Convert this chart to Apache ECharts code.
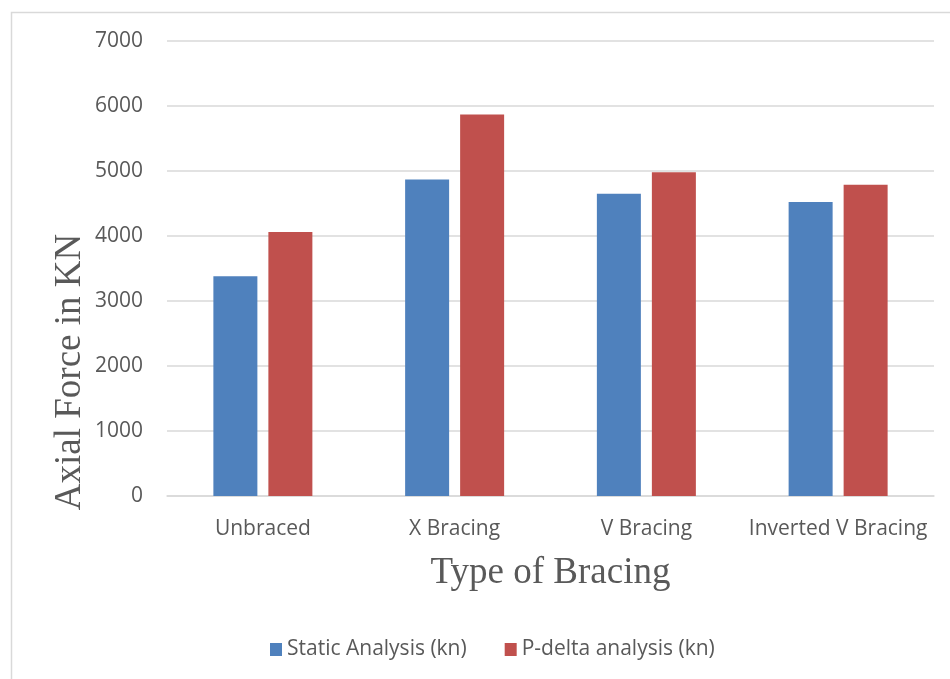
<!DOCTYPE html>
<html>
<head>
<meta charset="utf-8">
<style>
  html, body { margin: 0; padding: 0; background: #ffffff; }
  #chart { width: 950px; height: 679px; }
</style>
<script src="https://cdn.jsdelivr.net/npm/echarts@6/dist/echarts.min.js"></script>
</head>
<body>
<div id="chart"></div>
<script>
// Bracing types along the category axis
const categories = ['Unbraced', 'X Bracing', 'V Bracing', 'Inverted V Bracing'];
// Axial force (kN) for each analysis method
const staticAnalysis = [3380, 4870, 4650, 4525];
const pDeltaAnalysis = [4060, 5870, 4980, 4790];
const seriesNames = ['Static Analysis (kn)', 'P-delta analysis (kn)'];
// Value axis range and step
const yMin = 0, yMax = 7000, yStep = 1000;
const yTitle = 'Axial Force in KN';
const xTitle = 'Type of Bracing';

const labelFont = '"Open Sans", "Liberation Sans", sans-serif';
const titleFont = '"Liberation Serif", "Times New Roman", serif';
const textGray = '#595959';
const lineGray = '#D9D9D9';

const chart = echarts.init(document.getElementById('chart'), null, { renderer: 'canvas' });

chart.setOption({
  backgroundColor: '#ffffff',
  animation: false,
  color: ['#4F81BD', '#C0504D'],
  graphic: [
    {
      type: 'rect',
      shape: { x: 11.5, y: 12.5, width: 960, height: 700 },
      style: { fill: 'none', stroke: lineGray, lineWidth: 1.5 },
      silent: true,
      z: -1
    },
    {
      // vertical value-axis title, sitting a little below the plot's mid-height
      type: 'text',
      x: 70,
      y: 372,
      rotation: Math.PI / 2,
      style: {
        text: yTitle,
        fontFamily: titleFont,
        fontSize: 37,
        fill: textGray,
        align: 'center',
        verticalAlign: 'middle'
      },
      silent: true
    }
  ],
  grid: { left: 167, right: 16, top: 41, bottom: 183, containLabel: false },
  legend: {
    data: seriesNames,
    left: 265,
    top: 634,
    itemWidth: 12,
    itemHeight: 13,
    itemGap: 38,
    icon: 'rect',
    textStyle: { fontFamily: labelFont, fontSize: 21, color: textGray }
  },
  xAxis: {
    type: 'category',
    data: categories,
    name: xTitle,
    nameLocation: 'middle',
    nameGap: 59,
    nameTextStyle: { fontFamily: titleFont, fontSize: 37, color: textGray },
    axisLine: { lineStyle: { color: lineGray, width: 1.5 } },
    axisTick: { show: false },
    axisLabel: { interval: 0, fontFamily: labelFont, fontSize: 21, color: textGray, margin: 23 }
  },
  yAxis: {
    type: 'value',
    min: yMin,
    max: yMax,
    interval: yStep,
    axisLine: { show: false },
    axisTick: { show: false },
    splitLine: { lineStyle: { color: lineGray, width: 1.5 } },
    axisLabel: {
      fontFamily: labelFont, fontSize: 21, color: textGray, margin: 24,
      formatter: (v) => String(v)
    }
  },
  series: [
    {
      name: seriesNames[0],
      type: 'bar',
      data: staticAnalysis,
      barWidth: 44,
      barGap: '25%',
      itemStyle: { color: '#4F81BD' }
    },
    {
      name: seriesNames[1],
      type: 'bar',
      data: pDeltaAnalysis,
      barWidth: 44,
      itemStyle: { color: '#C0504D' }
    }
  ]
});
</script>
</body>
</html>
